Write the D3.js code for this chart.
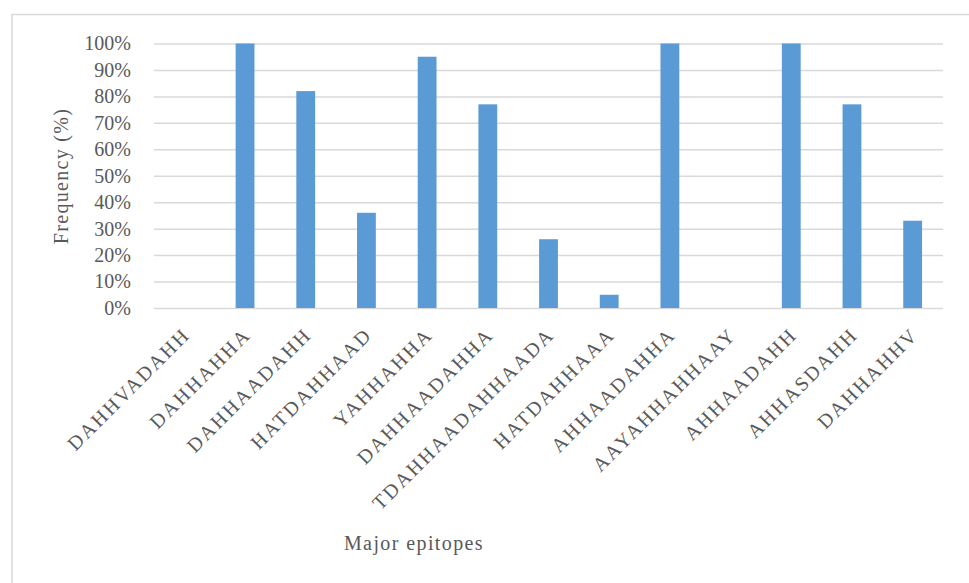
<!DOCTYPE html>
<html>
<head>
<meta charset="utf-8">
<script src="https://cdn.jsdelivr.net/npm/d3@7"></script>
<style>
body { margin: 0; background: #fff; }
</style>
</head>
<body>
<svg id="svg"></svg>
<script>
var epitopes = ["DAHHVADAHH", "DAHHAHHA", "DAHHAADAHH", "HATDAHHAAD", "YAHHAHHA", "DAHHAADAHHA",
    "TDAHHAADAHHAADA", "HATDAHHAAA", "AHHAADAHHA", "AAYAHHAHHAAY", "AHHAADAHH", "AHHASDAHH", "DAHHAHHV"];
var frequency = [0, 100, 82, 36, 95, 77, 26, 5, 100, 0, 100, 77, 33];
var yTicks = [0, 10, 20, 30, 40, 50, 60, 70, 80, 90, 100];

var larghezza = 969;
var altezza = 583;
var plotLeft = 154, plotRight = 943, plotTop = 43.5, plotBottom = 308;
var fontFam = "'Liberation Serif', 'DejaVu Serif', serif";
var grey = "#595959";

var svg = d3.select("#svg").attr("width", larghezza).attr("height", altezza);

// chart border
svg.append("rect")
    .attr("x", 12).attr("y", 14.5)
    .attr("width", 970).attr("height", 600)
    .style("fill", "none")
    .style("stroke", "#d9d9d9")
    .style("stroke-width", "1.5px");

var x = d3.scaleBand().domain(epitopes).range([plotLeft, plotRight]).paddingInner(0.69).paddingOuter(0.345);
var y = d3.scaleLinear().domain([0, 100]).range([plotBottom, plotTop]);

// gridlines + tick labels
var yAxis = d3.axisLeft(y).tickValues(yTicks).tickSize(-(plotRight - plotLeft)).tickFormat(function (d) { return d + "%"; });
var gy = svg.append("g").attr("transform", "translate(" + plotLeft + ",0)").call(yAxis);
gy.select(".domain").remove();
gy.selectAll(".tick line").style("stroke", "#d9d9d9").style("stroke-width", "1.5px");
gy.selectAll(".tick text")
    .attr("x", -23)
    .style("font-family", fontFam)
    .style("font-size", "20px")
    .style("fill", grey);

// bars
svg.selectAll("rect.bar")
    .data(frequency)
    .enter()
    .append("rect")
    .attr("class", "bar")
    .attr("x", function (d, i) { return x(epitopes[i]); })
    .attr("y", function (d) { return y(d); })
    .attr("width", x.bandwidth())
    .attr("height", function (d) { return plotBottom - y(d); })
    .style("fill", "#5b9bd5");

// x labels
epitopes.forEach(function (name) {
    var cx = x(name) + x.bandwidth() / 2;
    svg.append("text")
        .attr("transform", "translate(" + (cx + 2) + "," + 331 + ") rotate(-45)")
        .attr("text-anchor", "end")
        .attr("dy", "0.35em")
        .style("font-family", fontFam)
        .style("font-size", "20px")
        .style("letter-spacing", "2.2px")
        .style("fill", grey)
        .text(name);
});

// axis titles
svg.append("text")
    .attr("transform", "translate(68,176) rotate(-90)")
    .attr("text-anchor", "middle")
    .style("font-family", fontFam)
    .style("font-size", "20px")
    .style("letter-spacing", "1.3px")
    .style("fill", grey)
    .text("Frequency (%)");

svg.append("text")
    .attr("x", 414).attr("y", 550)
    .attr("text-anchor", "middle")
    .style("font-family", fontFam)
    .style("font-size", "20px")
    .style("letter-spacing", "1.4px")
    .style("fill", grey)
    .text("Major epitopes");
</script>
</body>
</html>
